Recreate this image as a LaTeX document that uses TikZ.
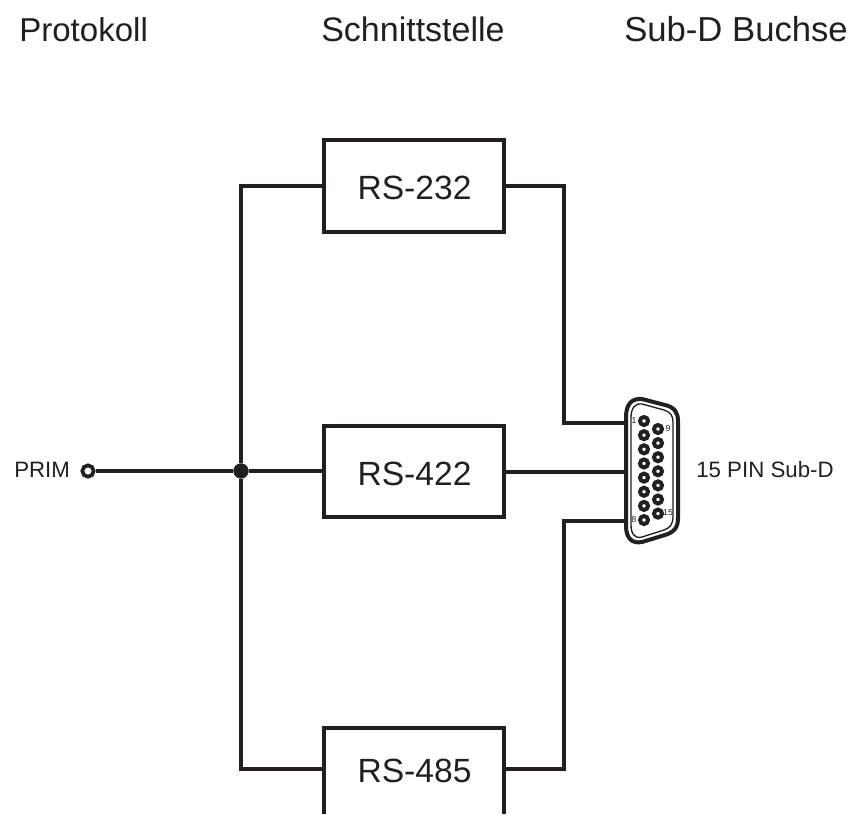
\documentclass[tikz,border=0pt]{standalone}
\usepackage{fontspec}
\setmainfont{Liberation Sans}
\usetikzlibrary{calc}
\definecolor{ink}{RGB}{35,31,32}
\tikzset{
  x=0.75pt,y=-0.75pt,
  wire/.style={draw=ink,line width=3pt,line join=miter},
  thebox/.style={draw=ink,line width=3pt,minimum width=135pt,inner sep=0pt,outer sep=0pt},
  boxtext/.style={text=ink,font=\fontsize{25.2}{26}\selectfont,inner sep=0pt},
  head/.style={text=ink,font=\fontsize{25.5}{26}\selectfont,inner sep=0pt},
  small/.style={text=ink,font=\fontsize{16.7}{17}\selectfont,inner sep=0pt},
  pin/.style={circle,draw=ink,line width=3pt,fill=white,minimum size=6pt,inner sep=0pt},
  tiny/.style={text=ink,font=\fontsize{6.5}{7}\selectfont,inner sep=0pt},
}
\begin{document}
\begin{tikzpicture}
\useasboundingbox (0,0) rectangle (855,814);
\clip (0,0) rectangle (855,813);
% headings
\node[head,anchor=base west,font=\fontsize{24.8}{26}\selectfont] (h1) at (19,41) {Protokoll};
\node[head,anchor=base west] (h2) at (321,41) {Schnittstelle};
\node[head,anchor=base west,font=\fontsize{26}{26}\selectfont] (h3) at (624,41) {Sub-D Buchse};
% boxes
\node[thebox,minimum height=68.6pt] (b232) at (413.5,185.8) {};
\node[boxtext] (t232) at (414.5,188) {RS-232};
\node[thebox,minimum height=68.5pt] (b422) at (413.5,471.5) {};
\node[boxtext] (t422) at (414.5,474) {RS-422};
\node[thebox,minimum height=78pt] (b485) at (413.5,780) {};
\node[boxtext] (t485) at (414.5,771) {RS-485};
% terminals
\node[small,anchor=base west] (prim) at (14,477) {PRIM};
\node[circle,draw=ink,line width=2.8pt,fill=white,minimum size=8.5pt,inner sep=0pt] (src) at (88,471) {};
\node[circle,fill=ink,minimum size=11.5pt,inner sep=0pt] (junc) at (241,471) {};
\node[small,anchor=base west] (lab) at (696,477) {15 PIN Sub-D};
% connector body
\coordinate (cw1) at (626,423);
\coordinate (cw2) at (626,471.5);
\coordinate (cw3) at (626,521);
\coordinate (r485) at (504,769);
\coordinate (l485) at (323,769);
% wires
\draw[wire] (src.east) -- (junc.west);
\draw[wire] (junc.east) -- (junc.east -| b422.west);
\draw[wire] (junc) -- (241,185.8) -- (b232.west);
\draw[wire] (junc) -- (241,769) -- (l485);
\draw[wire] (b232.east) -- (564,185.8) -- (564,423) -- (cw1);
\draw[wire] (b422.east) -- (cw2);
\draw[wire] (r485) -- (564,769) -- (564,521) -- (cw3);
\fill[white,draw=ink,line width=3pt,line join=round]
  (626,417) .. controls (626,404) and (632,398) .. (642,399)
  -- (665,405) .. controls (674,407) and (678,412) .. (678,421)
  -- (678,518) .. controls (678,528) and (674,532) .. (665,535)
  -- (642,542) .. controls (632,544) and (626,538) .. (626,526) -- cycle;
\draw[ink,line width=1pt,line join=round]
  (631,418) .. controls (631,408) and (635,403) .. (642,404)
  -- (664,410) .. controls (670,412) and (673,415) .. (673,422)
  -- (673,517) .. controls (673,524) and (670,528) .. (664,530)
  -- (642,537) .. controls (635,539) and (631,534) .. (631,525) -- cycle;
% pins
\foreach \i in {0,...,7} \node[pin] (pa\i) at (644,{421+14.15*\i}) {};
\foreach \i in {0,...,6} \node[pin] (pb\i) at (658,{429+14.1*\i}) {};
\node[tiny] (n1) at (634,421) {1};
\node[tiny] (n8) at (634,520) {8};
\node[tiny] (n9) at (668,429) {9};
\node[tiny] (n15) at (668,513) {15};
\end{tikzpicture}
\end{document}
